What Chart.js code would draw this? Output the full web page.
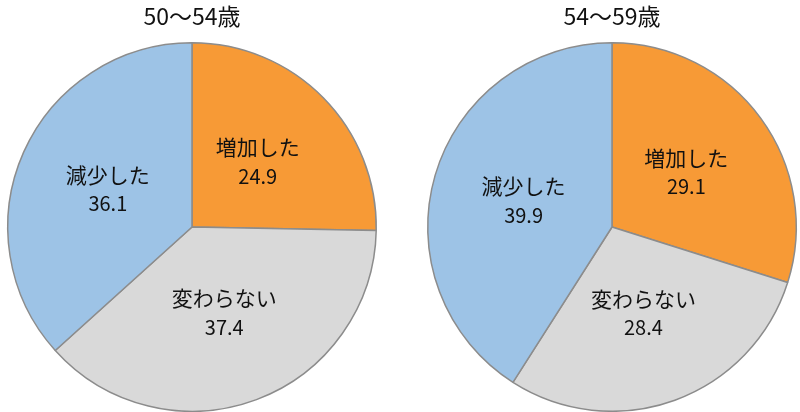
<!DOCTYPE html>
<html>
<head>
<meta charset="utf-8">
<script src="https://cdn.jsdelivr.net/npm/chart.js@4/dist/chart.umd.min.js"></script>
<style>
  html, body { margin: 0; padding: 0; background: #fff; overflow: hidden; }
  #wrap { position: relative; width: 800px; height: 412px; overflow: hidden; }
  .box { position: absolute; top: 0; width: 400px; height: 412px; }
</style>
</head>
<body>
<div id="wrap">
  <div class="box" style="left:-8px"><canvas id="pie1"></canvas></div>
  <div class="box" style="left:412px"><canvas id="pie2"></canvas></div>
</div>
<script>
const categories = ["増加した", "変わらない", "減少した"];
const values5054 = [24.9, 37.4, 36.1];
const values5459 = [29.1, 28.4, 39.9];
const titles = ["50〜54歳", "54〜59歳"];
const sliceColors = ["#F79A36", "#D9D9D9", "#9DC3E6"];

const FONT = '"Noto Sans CJK JP", "Noto Sans", sans-serif';

// labels in the middle of each slice: name + value
const sliceLabels = {
  id: "sliceLabels",
  afterDatasetsDraw(chart) {
    const ctx = chart.ctx;
    const meta = chart.getDatasetMeta(0);
    const data = chart.data.datasets[0].data;
    ctx.save();
    ctx.fillStyle = "#111";
    ctx.textAlign = "center";
    ctx.textBaseline = "middle";
    meta.data.forEach((arc, i) => {
      const p = arc.tooltipPosition();
      ctx.font = `21px ${FONT}`;
      ctx.fillText(chart.data.labels[i], p.x, p.y - 15);
      ctx.font = `20px ${FONT}`;
      ctx.fillText(data[i].toFixed(1), p.x, p.y + 14);
    });
    ctx.restore();
  },
};

function makePie(id, title, values) {
  return new Chart(document.getElementById(id), {
    type: "pie",
    data: {
      labels: categories,
      datasets: [{
        data: values,
        backgroundColor: sliceColors,
        borderColor: "#8c8c8c",
        borderWidth: 1.5,
      }],
    },
    options: {
      responsive: true,
      maintainAspectRatio: false,
      animation: false,
      layout: { padding: 0 },
      plugins: {
        legend: { display: false },
        tooltip: { enabled: false },
        title: {
          display: true,
          text: title,
          color: "#111",
          font: { family: FONT, size: 23, weight: "normal", lineHeight: 1.2 },
          padding: { top: 2, bottom: 12.4 },
        },
      },
    },
    plugins: [sliceLabels],
  });
}

makePie("pie1", titles[0], values5054);
makePie("pie2", titles[1], values5459);
</script>
</body>
</html>
